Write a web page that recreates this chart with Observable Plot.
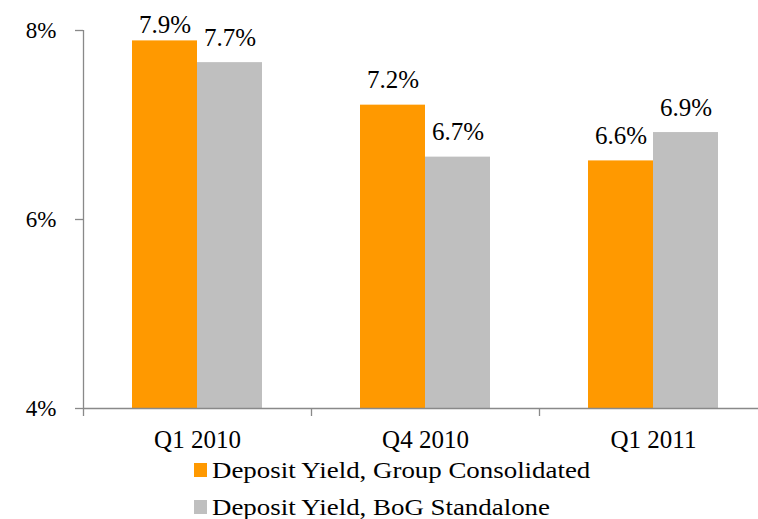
<!DOCTYPE html>
<html>
<head>
<meta charset="utf-8">
<script src="https://cdn.jsdelivr.net/npm/d3@7"></script>
<script src="https://cdn.jsdelivr.net/npm/@observablehq/plot@0.6"></script>
<style>
  html, body { margin: 0; padding: 0; background: #fff; }
  #wrap { position: relative; width: 758px; height: 519px; overflow: hidden; font-family: "Liberation Serif", "Times New Roman", Tinos, serif; }
  .lg-sw { position: absolute; width: 13px; height: 14px; }
  .lg-tx { position: absolute; font-size: 24px; line-height: 24px; color: #000; white-space: nowrap; transform-origin: left center; transform: scaleX(1.12); }
</style>
</head>
<body>
<div id="wrap"></div>
<script>
const categories = ["Q1 2010", "Q4 2010", "Q1 2011"];
const seriesNames = ["Deposit Yield, Group Consolidated", "Deposit Yield, BoG Standalone"];
const groupValues = [7.89, 7.21, 6.62];
const bogValues = [7.66, 6.66, 6.92];
const yTicks = [4, 6, 8];
const seriesColors = ["#FF9900", "#BFBFBF"];
const axisColor = "#898989";

const data = categories.flatMap((c, i) => [
  {cat: c, series: seriesNames[0], value: groupValues[i]},
  {cat: c, series: seriesNames[1], value: bogValues[i]}
]);

const W = 758, H = 455;
const fontFamily = '"Liberation Serif", "Times New Roman", Tinos, serif';

const chart = Plot.plot({
  width: W,
  height: H,
  marginLeft: 82,
  marginRight: 0,
  marginTop: 30,
  marginBottom: H - 408,
  style: {fontFamily, fontSize: "25px", color: "#000", background: "transparent", overflow: "visible"},
  fx: {domain: categories, range: [82, 767.5], padding: 0, label: null},
  x: {domain: seriesNames, paddingInner: 0, paddingOuter: 0.744, axis: null},
  y: {domain: [4, 8], axis: null},
  color: {domain: seriesNames, range: seriesColors},
  marks: [
    Plot.barY(data, {fx: "cat", x: "series", y1: 4, y2: "value", fill: "series"}),
    Plot.ruleY([4], {stroke: axisColor, strokeWidth: 1.3}),
    Plot.text(data.filter(d => d.value < 7.8), {
      fx: "cat", x: "series", y: "value",
      text: d => d.value.toFixed(1) + "%",
      dy: -17, lineAnchor: "bottom", fontSize: 25, fontFamily, fill: "#000"
    }),
    Plot.text(data.filter(d => d.value >= 7.8), {
      fx: "cat", x: "series", y: "value",
      text: d => d.value.toFixed(1) + "%",
      dy: -8, lineAnchor: "bottom", fontSize: 25, fontFamily, fill: "#000"
    }),
    Plot.axisY({ticks: yTicks, tickSize: 8, tickPadding: 19, tickFormat: d => d + "%", stroke: axisColor, strokeWidth: 1.3, fontSize: 23, fontFamily, fill: "#000", label: null}),
    Plot.axisFx({anchor: "bottom", tickSize: 0, tickPadding: 22, fontSize: 25, fontFamily, label: null, fill: "#000"})
  ]
});

// axis line and category boundary ticks, positioned via the plot's own scales
const fxs = chart.scale("fx");
const ys = chart.scale("y");
const svg = d3.select(chart);
const y4 = ys.apply(4), y8 = ys.apply(8);
const starts = categories.map(c => fxs.apply(c));
const bounds = starts.concat([starts[starts.length - 1] + fxs.bandwidth]);
svg.append("line")
  .attr("x1", bounds[0] + 0.5).attr("x2", bounds[0] + 0.5)
  .attr("y1", y8).attr("y2", y4 + 8)
  .attr("stroke", axisColor).attr("stroke-width", 1.3);
bounds.slice(1).forEach(b => {
  svg.append("line")
    .attr("x1", b + 0.5).attr("x2", b + 0.5)
    .attr("y1", y4).attr("y2", y4 + 8)
    .attr("stroke", axisColor).attr("stroke-width", 1.3);
});

const wrap = document.getElementById("wrap");
chart.style.position = "absolute";
chart.style.left = "0px";
chart.style.top = "0px";
wrap.appendChild(chart);

// legend below the chart
const legendTops = [458, 495];
seriesNames.forEach((name, i) => {
  const sw = document.createElement("div");
  sw.className = "lg-sw";
  sw.style.left = "194px";
  sw.style.top = (legendTops[i] + 5) + "px";
  sw.style.background = seriesColors[i];
  wrap.appendChild(sw);
  const tx = document.createElement("div");
  tx.className = "lg-tx";
  tx.style.left = "212px";
  tx.style.top = legendTops[i] + "px";
  tx.textContent = name;
  wrap.appendChild(tx);
});
</script>
</body>
</html>
